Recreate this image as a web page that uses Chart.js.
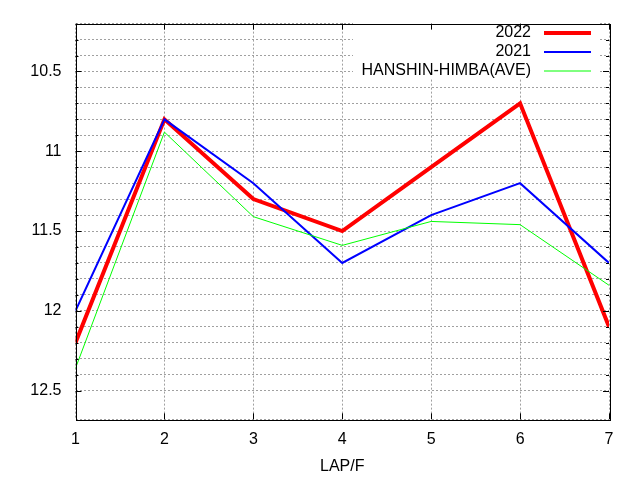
<!DOCTYPE html>
<html>
<head>
<meta charset="utf-8">
<script src="https://cdn.jsdelivr.net/npm/chart.js@4/dist/chart.umd.min.js"></script>
<style>
  html, body { margin: 0; padding: 0; background: #fff; }
  #wrap { width: 640px; height: 480px; }
</style>
</head>
<body>
<div id="wrap"><canvas id="mainChart" width="640" height="480"></canvas></div>
<script>
const laps = [1, 2, 3, 4, 5, 6, 7];
const y2022 = [12.2, 10.8, 11.3, 11.5, 11.1, 10.7, 12.1];
const y2021 = [12.0, 10.8, 11.2, 11.7, 11.4, 11.2, 11.7];
const yAve = [12.36, 10.88, 11.41, 11.59, 11.44, 11.46, 11.84];
const seriesNames = ["2022", "2021", "HANSHIN-HIMBA(AVE)"];
const yTickLabels = [10.5, 11, 11.5, 12, 12.5];
const xTitle = "LAP/F";

const FONT = "'Liberation Sans', Arial, sans-serif";

function pts(vals) {
  return laps.map((x, i) => ({ x, y: vals[i] }));
}

function isLabelled(v) {
  return yTickLabels.some(t => Math.abs(t - v) < 1e-6);
}

// gnuplot-ish frame: opaque key box, full border, inward ticks, key at top right
const gnuFrame = {
  id: "gnuFrame",
  beforeDatasetsDraw(chart) {
    const ctx = chart.ctx;
    ctx.save();
    ctx.fillStyle = "#fff";
    ctx.fillRect(353, 20, 246, 58);
    ctx.restore();
  },
  afterDraw(chart) {
    const ctx = chart.ctx;
    const a = chart.chartArea;
    const xs = chart.scales.x;
    const ys = chart.scales.y;
    ctx.save();
    ctx.strokeStyle = "#000";
    ctx.lineWidth = 1;
    ctx.setLineDash([]);
    ctx.strokeRect(Math.round(a.left) + 0.5, Math.round(a.top) + 0.5,
      Math.round(a.right - a.left), Math.round(a.bottom - a.top));

    ctx.beginPath();
    xs.ticks.forEach(t => {
      const px = Math.round(xs.getPixelForValue(t.value)) + 0.5;
      ctx.moveTo(px, a.bottom); ctx.lineTo(px, a.bottom - 6);
      ctx.moveTo(px, a.top); ctx.lineTo(px, a.top + 6);
    });
    ys.ticks.forEach(t => {
      if (t.value > 12.65) return;
      const py = Math.round(ys.getPixelForValue(t.value)) + 0.5;
      const len = isLabelled(t.value) ? 6 : 3;
      ctx.moveTo(a.left, py); ctx.lineTo(a.left + len, py);
      ctx.moveTo(a.right, py); ctx.lineTo(a.right - len, py);
    });
    ctx.stroke();

    // key
    ctx.font = "16px " + FONT;
    ctx.textAlign = "right";
    ctx.textBaseline = "middle";
    const rows = [33, 52, 71];
    chart.data.datasets.forEach((ds, i) => {
      ctx.fillStyle = "#000";
      ctx.fillText(ds.label, 531, rows[i]);
      ctx.strokeStyle = ds.borderColor;
      ctx.lineWidth = ds.borderWidth;
      ctx.beginPath();
      ctx.moveTo(544, rows[i]);
      ctx.lineTo(591, rows[i]);
      ctx.stroke();
    });
    ctx.restore();
  }
};

const ctx = document.getElementById("mainChart").getContext("2d");
new Chart(ctx, {
  type: "line",
  data: {
    datasets: [
      { label: seriesNames[0], data: pts(y2022), borderColor: "#ff0000", borderWidth: 4, order: 3 },
      { label: seriesNames[1], data: pts(y2021), borderColor: "#0000ff", borderWidth: 2, order: 2 },
      { label: seriesNames[2], data: pts(yAve), borderColor: "#00ff00", borderWidth: 1, order: 1 }
    ]
  },
  options: {
    responsive: false,
    animation: false,
    devicePixelRatio: 1,
    layout: { padding: { top: 19, right: 31, left: 0, bottom: 0 } },
    elements: {
      line: { tension: 0, fill: false, borderCapStyle: "butt", borderJoinStyle: "miter" },
      point: { radius: 0, hoverRadius: 0 }
    },
    plugins: { legend: { display: false }, tooltip: { enabled: false } },
    scales: {
      x: {
        type: "linear",
        min: 1,
        max: 7,
        ticks: { stepSize: 1, color: "#000", padding: 11, font: { family: FONT, size: 16 } },
        grid: { color: "#a0a0a0", lineWidth: 1, drawTicks: false, borderDash: [2, 2] },
        border: { display: true, color: "rgba(0,0,0,0)", dash: [2, 2] },
        title: { display: true, text: xTitle, color: "#000", font: { family: FONT, size: 16 }, padding: { top: 8 } },
        afterFit(scale) { scale.height = 60.7; }
      },
      y: {
        type: "linear",
        reverse: true,
        min: 10.2,
        max: 12.68,
        ticks: {
          stepSize: 0.1,
          autoSkip: false,
          color: "#000",
          padding: 14,
          font: { family: FONT, size: 16 },
          callback: v => isLabelled(v) ? String(Math.round(v * 10) / 10) : ""
        },
        grid: { color: "#a0a0a0", lineWidth: 1, drawTicks: false, borderDash: [2, 2] },
        border: { display: true, color: "rgba(0,0,0,0)", dash: [2, 2] },
        afterFit(scale) { scale.width = 75.5; }
      }
    }
  },
  plugins: [gnuFrame]
});
</script>
</body>
</html>
